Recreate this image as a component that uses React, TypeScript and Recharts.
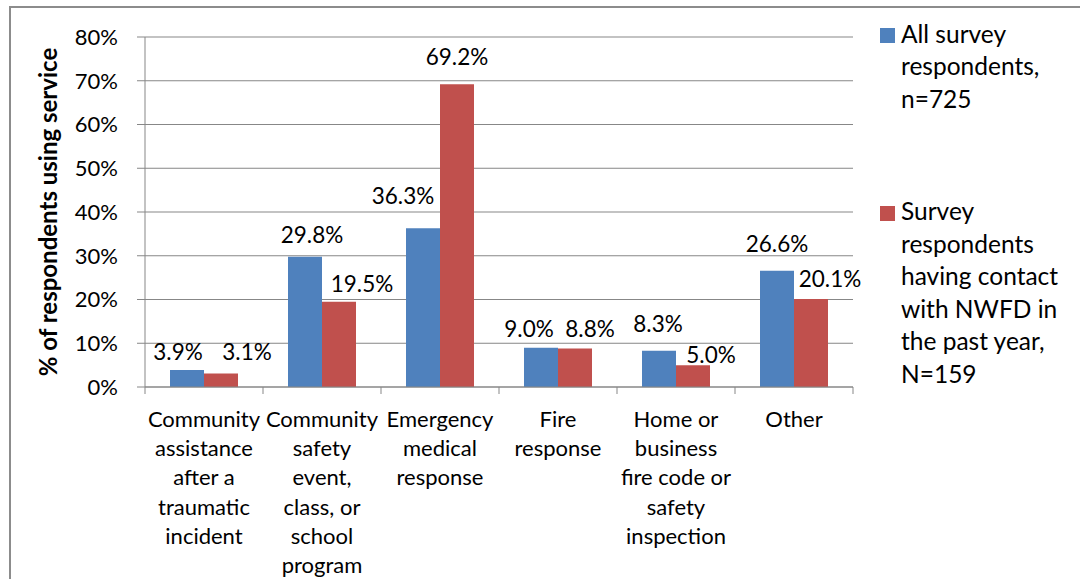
import { Bar, BarChart, CartesianGrid, LabelList, Legend, XAxis, YAxis } from 'recharts'

const categoryLines = [
  ['Community', 'assistance', 'after a', 'traumatic', 'incident'],
  ['Community', 'safety', 'event,', 'class, or', 'school', 'program'],
  ['Emergency', 'medical', 'response'],
  ['Fire', 'response'],
  ['Home or', 'business', 'fire code or', 'safety', 'inspection'],
  ['Other'],
]
const categories = categoryLines.map((l) => l.join(' '))

const allRespondents = [3.9, 29.8, 36.3, 9.0, 8.3, 26.6]
const contactRespondents = [3.1, 19.5, 69.2, 8.8, 5.0, 20.1]

const seriesNames = ['All survey respondents, n=725', 'Survey respondents having contact with NWFD in the past year, N=159']
const legendLines = [
  ['All survey', 'respondents,', 'n=725'],
  ['Survey', 'respondents', 'having contact', 'with NWFD in', 'the past year,', 'N=159'],
]

const yTicks = [0, 10, 20, 30, 40, 50, 60, 70, 80]

const data = categories.map((name, i) => ({
  name,
  all: allRespondents[i],
  contact: contactRespondents[i],
}))

// hand-placed label nudges so the value labels don't collide
const blueLabelShift = [
  { dx: -9, gap: 10 },
  { dx: 7, gap: 14 },
  { dx: -20, gap: 24 },
  { dx: -12, gap: 11 },
  { dx: -1, gap: 19 },
  { dx: 0, gap: 19 },
]
const redLabelShift = [
  { dx: 26, gap: 13 },
  { dx: 23, gap: 10 },
  { dx: 0, gap: 19 },
  { dx: 15, gap: 12 },
  { dx: 18, gap: 2 },
  { dx: 19, gap: 12 },
]

const FONT = 'Lato, "Open Sans", sans-serif'
const GRID = '#878787'
const BLUE = '#4F81BD'
const RED = '#C0504D'
const PLOT_LEFT = 145
const PLOT_RIGHT = 853
const BAND = (PLOT_RIGHT - PLOT_LEFT) / categories.length

function CategoryTick(props: any) {
  const { x, y, index } = props
  const lines = categoryLines[index] ?? []
  const edge = x - BAND / 2
  return (
    <g>
      <line x1={edge} y1={y} x2={edge} y2={y + 7} stroke={GRID} />
      {index === categories.length - 1 && (
        <line x1={x + BAND / 2} y1={y} x2={x + BAND / 2} y2={y + 7} stroke={GRID} />
      )}
      <text x={x} y={y + 40} textAnchor="middle" fill="#000" fontSize={22} fontFamily={FONT}>
        {lines.map((l, i) => (
          <tspan key={i} x={x} dy={i === 0 ? 0 : 29.2}>
            {l}
          </tspan>
        ))}
      </text>
    </g>
  )
}

const makeValueLabel = (shifts: { dx: number; gap: number }[]) => (props: any) => {
  const { x, y, width, value, index } = props
  const s = shifts[index] ?? { dx: 0, gap: 12 }
  return (
    <text
      x={x + width / 2 + s.dx}
      y={y - s.gap}
      textAnchor="middle"
      fill="#000"
      fontSize={22.5}
      fontFamily={FONT}
    >
      {`${Number(value).toFixed(1)}%`}
    </text>
  )
}

const renderLegend = (props: any) => {
  const { payload = [] } = props
  const tops = [17.7, 195]
  return (
    <div style={{ position: 'relative', width: 195, height: 400, fontFamily: FONT, fontSize: 24.5 }}>
      {payload.map((entry: any, i: number) => (
        <div key={i} style={{ position: 'absolute', left: 0, top: tops[i], display: 'flex' }}>
          <div style={{ width: 15, height: 15, background: entry.color, marginTop: 10.7, marginRight: 6 }} />
          <div style={{ lineHeight: '32.5px', color: '#000', whiteSpace: 'nowrap' }}>
            {legendLines[i].map((l, j) => (
              <div key={j}>{l}</div>
            ))}
          </div>
        </div>
      ))}
    </div>
  )
}

export default function App() {
  return (
    <div
      style={{
        position: 'absolute',
        left: 0,
        top: 0,
        width: 1080,
        height: 579,
        overflow: 'hidden',
        background: '#fff',
      }}
    >
      <div
        style={{
          position: 'absolute',
          left: 9,
          top: 6,
          width: 1100,
          height: 620,
          border: '2px solid #8c8c8c',
        }}
      />
      <BarChart
        width={1080}
        height={579}
        data={data}
        margin={{ top: 37, right: 1080 - PLOT_RIGHT, bottom: 12, left: 0 }}
        barGap={0}
        barSize={34}
      >
        <CartesianGrid horizontal vertical={false} stroke={GRID} />
        <XAxis
          dataKey="name"
          height={180}
          interval={0}
          axisLine={{ stroke: GRID }}
          tickLine={false}
          tickSize={0}
          tickMargin={0}
          tick={<CategoryTick />}
        />
        <YAxis
          width={PLOT_LEFT}
          domain={[0, 80]}
          ticks={yTicks}
          interval={0}
          axisLine={{ stroke: GRID }}
          tickLine={{ stroke: GRID }}
          tickSize={8}
          tickMargin={19}
          tickFormatter={(v) => `${v}%`}
          tick={{ fill: '#000', fontSize: 22, fontFamily: FONT }}
          label={{
            content: (p: any) => {
              const vb = p.viewBox
              const cy = vb.y + vb.height / 2
              return (
                <text
                  x={47}
                  y={cy}
                  transform={`rotate(-90 47 ${cy})`}
                  textAnchor="middle"
                  dominantBaseline="central"
                  fontSize={24}
                  fontWeight="bold"
                  fontFamily={FONT}
                  fill="#000"
                >
                  % of respondents using service
                </text>
              )
            },
          }}
        />
        <Legend
          layout="horizontal"
          verticalAlign="middle"
          align="center"
          content={renderLegend}
          wrapperStyle={{ position: 'absolute', left: 880, top: 0, width: 195, height: 400 }}
        />
        <Bar dataKey="all" name={seriesNames[0]} fill={BLUE} isAnimationActive={false}>
          <LabelList dataKey="all" content={makeValueLabel(blueLabelShift)} />
        </Bar>
        <Bar dataKey="contact" name={seriesNames[1]} fill={RED} isAnimationActive={false}>
          <LabelList dataKey="contact" content={makeValueLabel(redLabelShift)} />
        </Bar>
      </BarChart>
    </div>
  )
}
